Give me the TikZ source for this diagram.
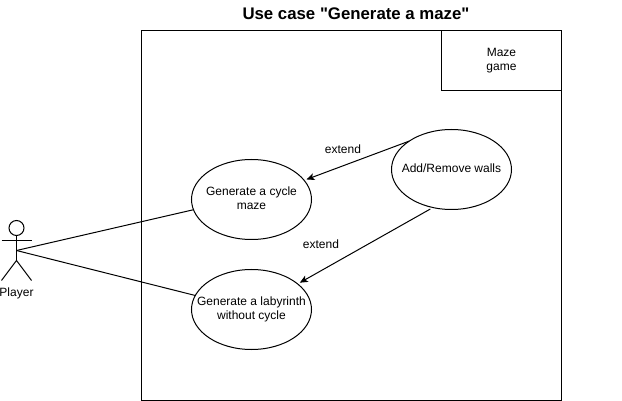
\documentclass[tikz,border=0pt]{standalone}
\usepackage{fontspec}
\setmainfont{Liberation Sans}
\usepackage{tikz}
\usetikzlibrary{positioning,shapes.geometric,arrows.meta}
\tikzstyle{arrow} = [line width=1pt,->,>={Stealth[length=8pt,width=7pt,inset=2pt]},shorten >=2.5pt]
\tikzstyle{link} = [line width=1pt]
\tikzstyle{box} = [draw, line width=1pt, rectangle, outer sep=0pt, inner sep=0pt, align=center]
\tikzstyle{usecase} = [draw, line width=1pt, ellipse, outer sep=0pt, inner sep=0pt,
    minimum width=120pt, minimum height=80pt]
\tikzstyle{txt} = [inner sep=0pt, align=center, font=\fontsize{12}{14}\selectfont]
\newcommand{\casetext}[1]{\makebox[0pt]{\begin{tabular}{@{}c@{}}#1\end{tabular}}}

\begin{document}
\begin{tikzpicture}[x=1pt, y=-1pt, font=\fontsize{12}{14}\selectfont]
    \useasboundingbox (0,0) rectangle (622,401);
    \node [txt, font=\fontsize{16.8}{18}\selectfont\bfseries] (title) at (356,14) {Use case \textquotedbl Generate a maze\textquotedbl};
    \node [box, minimum width=420pt, minimum height=370pt] (system) at (351.5,215.5) {};
    \node [box, minimum width=120pt, minimum height=60pt, anchor=north east] (game) at (system.north east) {Maze\\game};
    \node [usecase] (cycle) at (251.5,199.5) {\casetext{Generate a cycle\\maze}};
    \node [usecase, below of=cycle, node distance=110pt] (labyrinth) {\casetext{Generate a labyrinth\\without cycle}};
    \node [usecase] (walls) at (451.5,169.5) {\casetext{Add/Remove walls}};
    \node [txt] (extendup) at (343,149) {extend};
    \node [txt] (extenddown) at (321,244) {extend};
    \node [draw, line width=1pt, circle, minimum size=15pt, inner sep=0pt, outer sep=0pt] (head) at (16.5,228) {};
    \coordinate (hip) at (16.5,250.5);
    \coordinate (crotch) at (16.5,260.5);
    \coordinate (handl) at (1.5,240.5);
    \coordinate (handr) at (31.5,240.5);
    \coordinate (footl) at (1.5,280.5);
    \coordinate (footr) at (31.5,280.5);
    \node [txt] (player) at (16.5,293) {Player};
    \draw [link] (head.south) -- (crotch);
    \draw [link] (handl) -- (handr);
    \draw [link] (footl) -- (crotch) -- (footr);
    \draw [link] (hip) -- (cycle.190);
    \draw [link] (hip) -- (labyrinth.166);
    \draw [arrow] (walls.146) -- (cycle.20);
    \draw [arrow, shorten <=3pt] (walls.244) -- (labyrinth.29);
\end{tikzpicture}
\end{document}
